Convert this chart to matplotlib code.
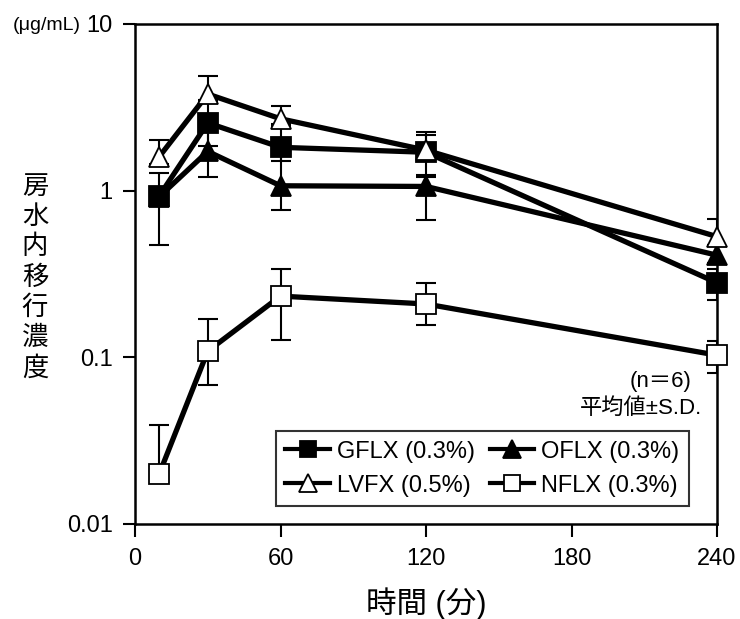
import numpy as np
import matplotlib.pyplot as plt

plt.rcParams['font.family'] = ['Liberation Sans', 'Noto Sans CJK JP', 'DejaVu Sans']

# time points (min)
times = [10, 30, 60, 120, 240]

# mean concentration and error bar ends (ug/mL)
gflx = [0.93, 2.55, 1.82, 1.70, 0.28]
gflx_hi = [1.27, 3.5, 2.5, 2.26, 0.34]
gflx_lo = [0.47, 1.85, 1.5, 1.25, 0.22]

oflx = [0.92, 1.72, 1.07, 1.06, 0.41]
oflx_hi = [1.0, 2.4, 1.7, 1.2, 0.47]
oflx_lo = [0.85, 1.2, 0.77, 0.67, 0.37]

lvfx = [1.6, 3.8, 2.7, 1.75, 0.53]
lvfx_hi = [2.0, 4.85, 3.2, 2.17, 0.68]
lvfx_lo = [1.45, 3.4, 2.45, 1.6, 0.47]

nflx = [0.02, 0.109, 0.233, 0.209, 0.103]
nflx_hi = [0.039, 0.169, 0.339, 0.28, 0.125]
nflx_lo = [0.018, 0.068, 0.127, 0.156, 0.081]

labels = ['GFLX (0.3%)', 'OFLX (0.3%)', 'LVFX (0.5%)', 'NFLX (0.3%)']
xticks = [0, 60, 120, 180, 240]
yticks = [0.01, 0.1, 1, 10]
ytick_labels = ['0.01', '0.1', '1', '10']

fig = plt.figure(figsize=(7.4, 6.19), dpi=100)
ax = fig.add_axes([135 / 740, 95 / 619, 582 / 740, 500 / 619])

series = [
    (gflx, gflx_lo, gflx_hi, 's', 'black'),
    (oflx, oflx_lo, oflx_hi, '^', 'black'),
    (lvfx, lvfx_lo, lvfx_hi, '^', 'white'),
    (nflx, nflx_lo, nflx_hi, 's', 'white'),
]

handles = []
for (vals, lo, hi, mk, fc), lab in zip(series, labels):
    vals = np.array(vals)
    err = [vals - np.array(lo), np.array(hi) - vals]
    ax.errorbar(times, vals, yerr=err, fmt='none', ecolor='black',
                elinewidth=1.5, capsize=7, capthick=1.5, zorder=2)
    h, = ax.plot(times, vals, color='black', lw=3.8, marker=mk,
                 markersize=14 if mk == 's' else 15, markerfacecolor=fc,
                 markeredgecolor='black', markeredgewidth=1.3,
                 zorder=3, clip_on=False, label=lab)
    handles.append(h)

ax.set_yscale('log')
ax.set_xlim(0, 240)
ax.set_ylim(0.01, 10)
ax.set_xticks(xticks)
ax.set_xticklabels([str(t) for t in xticks])
ax.set_yticks(yticks)
ax.set_yticklabels(ytick_labels)
ax.minorticks_off()
ax.tick_params(axis='both', direction='out', length=9, width=1.5,
               labelsize=17)
ax.tick_params(axis='y', pad=7)
ax.tick_params(axis='x', pad=8)
for sp in ax.spines.values():
    sp.set_linewidth(1.8)

ax.set_xlabel('時間 (分)', fontsize=22, labelpad=13)

# vertical stacked y label
fig.text(35 / 740, 1 - 278 / 619, '\n'.join('房水内移行濃度'), fontsize=19,
         ha='center', va='center', linespacing=1.3)
fig.text(81 / 740, 1 - 25 / 619, '(μg/mL)', fontsize=14,
         ha='right', va='center')

ax.text(0.957, 0.284, '(n＝6)', transform=ax.transAxes, ha='right',
        va='center', fontsize=16)
ax.text(0.974, 0.232, '平均値±S.D.', transform=ax.transAxes, ha='right',
        va='center', fontsize=16)

# legend filled column-wise: rows GFLX/OFLX and LVFX/NFLX
order = [0, 2, 1, 3]
leg = ax.legend([handles[i] for i in order], [labels[i] for i in order],
                ncol=2, loc='lower right', bbox_to_anchor=(0.952, 0.036),
                borderaxespad=0, fontsize=17, frameon=True, fancybox=False,
                edgecolor='black', handlelength=1.9, handletextpad=0.3,
                columnspacing=0.6, borderpad=0.4, labelspacing=0.5,
                markerscale=0.85)
leg.get_frame().set_linewidth(1.5)
for lh in leg.legend_handles:
    lh.set_linewidth(3.0)

fig.savefig('out.png', dpi=100)
